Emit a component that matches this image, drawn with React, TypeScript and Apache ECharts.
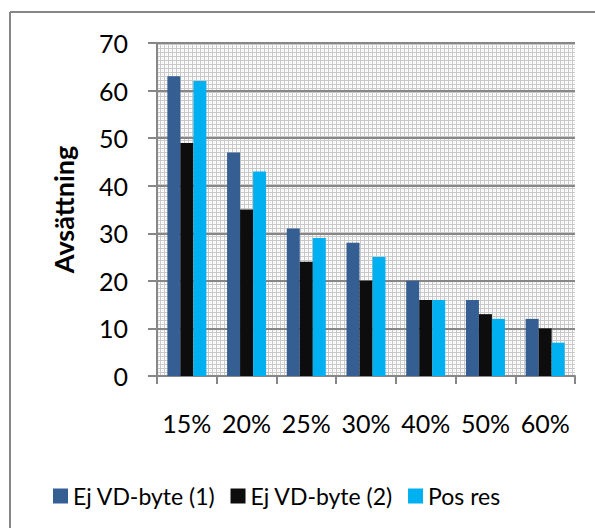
import React, { useEffect, useRef } from "react";
import * as echarts from "echarts";

const categories = ["15%", "20%", "25%", "30%", "40%", "50%", "60%"];
const seriesNames = ["Ej VD-byte (1)", "Ej VD-byte (2)", "Pos res"];
const ejVd1 = [63, 47, 31, 28, 20, 16, 12];
const ejVd2 = [49, 35, 24, 20, 16, 13, 10];
const posRes = [62, 43, 29, 25, 16, 12, 7];
const seriesColors = ["#355f93", "#0d0d0d", "#00b0f0"];

const FONT = "Lato";
const GREY = "#878787";

// Small tiled grid used as the plot-area fill
function makePattern(): string {
  const c = document.createElement("canvas");
  c.width = 4;
  c.height = 4;
  const ctx = c.getContext("2d")!;
  ctx.fillStyle = "#ffffff";
  ctx.fillRect(0, 0, 4, 4);
  ctx.fillStyle = "#c8c8c8";
  ctx.fillRect(0, 0, 4, 1);
  ctx.fillRect(0, 0, 1, 4);
  ctx.fillStyle = "#e4e4e4";
  ctx.fillRect(2, 2, 1, 1);
  return c.toDataURL();
}

export default function App() {
  const ref = useRef<HTMLDivElement>(null);

  useEffect(() => {
    if (!ref.current) return;
    const chart = echarts.init(ref.current, null, { renderer: "svg" });
    const values = [ejVd1, ejVd2, posRes];
    chart.setOption({
      animation: false,
      backgroundColor: "#ffffff",
      grid: {
        left: 157,
        top: 43,
        right: 20,
        bottom: 152,
        show: true,
        borderWidth: 0,
        backgroundColor: { image: makePattern(), repeat: "repeat" },
      },
      legend: {
        data: seriesNames,
        left: 48,
        top: 478,
        icon: "rect",
        itemWidth: 15,
        itemHeight: 15,
        itemGap: 15,
        textStyle: { fontFamily: FONT, fontSize: 23, color: "#000", lineHeight: 26 },
      },
      xAxis: {
        type: "category",
        data: categories,
        axisLine: { lineStyle: { color: GREY, width: 2 } },
        axisTick: { show: true, length: 8, lineStyle: { color: GREY, width: 2 } },
        axisLabel: {
          color: "#000",
          fontFamily: FONT,
          fontSize: 25,
          lineHeight: 25,
          margin: 34,
          interval: 0,
        },
      },
      yAxis: {
        type: "value",
        min: 0,
        max: 70,
        interval: 10,
        name: "Avsättning",
        nameLocation: "middle",
        nameRotate: 90,
        nameGap: 80,
        nameTextStyle: { fontFamily: FONT, fontSize: 27, fontWeight: "bold", color: "#000" },
        axisLine: { show: true, lineStyle: { color: GREY, width: 2 } },
        axisTick: { show: true, length: 9, lineStyle: { color: GREY, width: 2 } },
        axisLabel: { color: "#000", fontFamily: FONT, fontSize: 25, margin: 29 },
        splitLine: { show: true, lineStyle: { color: GREY, width: 2 } },
      },
      series: seriesNames.map((name, i) => ({
        name,
        type: "bar",
        data: values[i],
        barWidth: 13,
        barGap: "0%",
        itemStyle: { color: seriesColors[i] },
      })),
      graphic: [
        {
          type: "line",
          shape: { x1: 10, y1: 12, x2: 595, y2: 12 },
          style: { stroke: GREY, lineWidth: 2 },
        },
        {
          type: "line",
          shape: { x1: 10, y1: 12, x2: 10, y2: 528 },
          style: { stroke: GREY, lineWidth: 2 },
        },
      ],
    });
    return () => chart.dispose();
  }, []);

  return (
    <div
      ref={ref}
      style={{ position: "absolute", left: 0, top: 0, width: 595, height: 528 }}
    />
  );
}
